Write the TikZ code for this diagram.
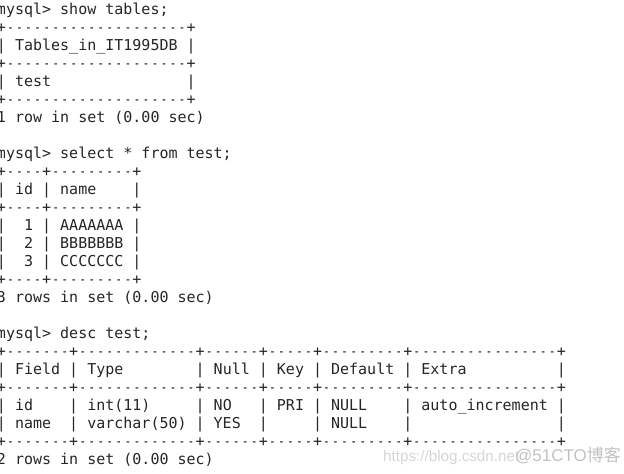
\documentclass[tikz,border=0pt]{standalone}
\usepackage{fontspec}
\usepackage{graphicx}
\setmonofont{DejaVu Sans Mono}
\newfontfamily\wmfont{Liberation Sans}
\newfontfamily\wmcjk{Noto Sans CJK SC}
\definecolor{termink}{HTML}{262626}
\definecolor{wmlight}{HTML}{D6D6D6}
\definecolor{wmdark}{HTML}{C2C2C2}
\newcommand\onedash{\makebox[0.602em][c]{\scalebox{0.7}[1]{-}}}
\ExplSyntaxOn
\cs_new:Npn \dd #1 {\prg_replicate:nn{#1}{\onedash}}
\cs_new:Npn \bl #1 {\prg_replicate:nn{#1}{\nobreakspace}}
\ExplSyntaxOff
\begin{document}
\begin{tikzpicture}[x=1pt,y=1pt]
\tikzset{
  tl/.style={anchor=base west, inner sep=0pt, outer sep=0pt,
    font=\ttfamily\fontsize{15}{18}\selectfont\frenchspacing, text=termink},
  wmurl/.style={anchor=base west, inner sep=0pt, font=\wmfont\fontsize{15.2}{18}\selectfont, text=wmlight},
  wmtag/.style={anchor=base west, inner sep=0pt, font=\wmfont\fontsize{17}{20}\selectfont, text=wmdark}
}
\useasboundingbox (0,0) rectangle (624,-474);
\clip (0,0) rectangle (624,-474);
\fill[white] (0,0) rectangle (624,-474);
% first query
\node[tl] (l0)  at (-3,-14)  {mysql>~show~tables;};
\node[tl] (l1)  at (-3,-32)  {+\dd{20}+};
\node[tl] (l2)  at (-3,-50)  {|~Tables\_in\_IT1995DB~|};
\node[tl] (l3)  at (-3,-68)  {+\dd{20}+};
\node[tl] (l4)  at (-3,-86)  {|~test\bl{15}|};
\node[tl] (l5)  at (-3,-104) {+\dd{20}+};
\node[tl] (l6)  at (-3,-122) {1~row~in~set~(0.00~sec)};
% second query
\node[tl] (l8)  at (-3,-158) {mysql>~select~*~from~test;};
\node[tl] (l9)  at (-3,-176) {+\dd{4}+\dd{9}+};
\node[tl] (l10) at (-3,-194) {|~id~|~name\bl{4}|};
\node[tl] (l11) at (-3,-212) {+\dd{4}+\dd{9}+};
\node[tl] (l12) at (-3,-230) {|\bl{2}1~|~AAAAAAA~|};
\node[tl] (l13) at (-3,-248) {|\bl{2}2~|~BBBBBBB~|};
\node[tl] (l14) at (-3,-266) {|\bl{2}3~|~CCCCCCC~|};
\node[tl] (l15) at (-3,-284) {+\dd{4}+\dd{9}+};
\node[tl] (l16) at (-3,-302) {3~rows~in~set~(0.00~sec)};
% third query
\node[tl] (l18) at (-3,-338) {mysql>~desc~test;};
\node[tl] (l19) at (-3,-356) {+\dd{7}+\dd{13}+\dd{6}+\dd{5}+\dd{9}+\dd{16}+};
\node[tl] (l20) at (-3,-374) {|~Field~|~Type\bl{8}|~Null~|~Key~|~Default~|~Extra\bl{10}|};
\node[tl] (l21) at (-3,-392) {+\dd{7}+\dd{13}+\dd{6}+\dd{5}+\dd{9}+\dd{16}+};
\node[tl] (l22) at (-3,-410) {|~id\bl{4}|~int(11)\bl{5}|~NO\bl{3}|~PRI~|~NULL\bl{4}|~auto\_increment~|};
\node[tl] (l23) at (-3,-428) {|~name\bl{2}|~varchar(50)~|~YES\bl{2}|\bl{5}|~NULL\bl{4}|\bl{16}|};
\node[tl] (l24) at (-3,-446) {+\dd{7}+\dd{13}+\dd{6}+\dd{5}+\dd{9}+\dd{16}+};
\node[tl] (l25) at (-3,-464) {2~rows~in~set~(0.00~sec)};
% watermark
\node[wmurl] (wm1) at (383,-461) {https://blog.csdn.net};
\node[wmtag] (wm2) at (515,-461) {@51CTO{\wmcjk 博客}};
\end{tikzpicture}
\end{document}
